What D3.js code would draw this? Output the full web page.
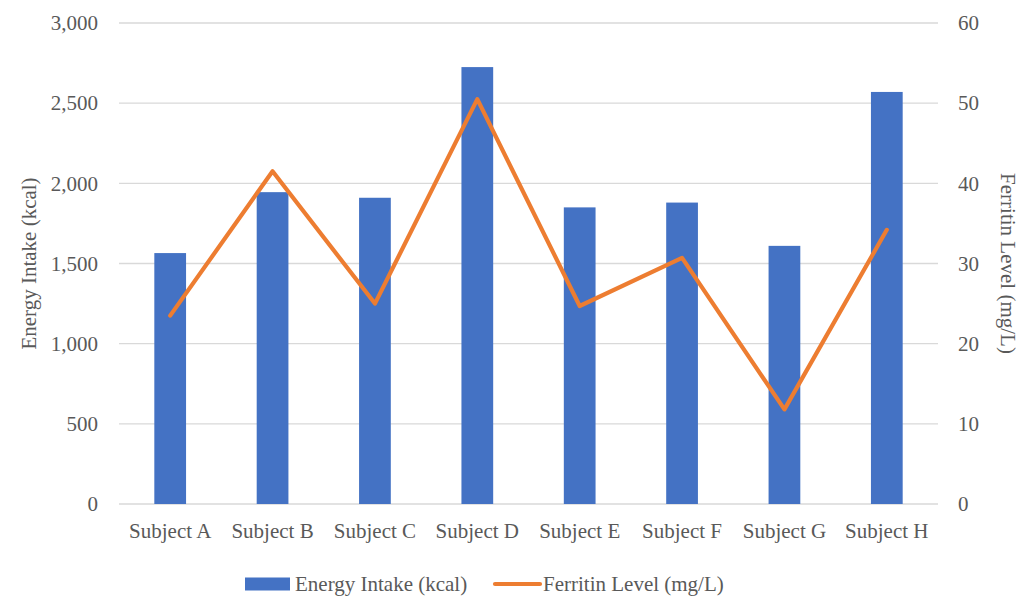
<!DOCTYPE html>
<html lang="en">
    <head>
        <meta charset="UTF-8" />
        <title>Energy Intake and Ferritin Level</title>
        <style>
            body {
                margin: 0;
                background: #fff;
            }
            svg text {
                font-family: 'Liberation Serif', 'DejaVu Serif', 'Times New Roman', serif;
                fill: #595959;
            }
        </style>
    </head>
    <body>
        <svg width="1020" height="598"></svg>
        <script src="https://d3js.org/d3.v7.min.js"></script>
        <script>
            const subjects = ['Subject A', 'Subject B', 'Subject C', 'Subject D', 'Subject E', 'Subject F', 'Subject G', 'Subject H'];
            const energyIntake = [1565, 1945, 1910, 2725, 1850, 1880, 1610, 2570];
            const ferritin = [23.5, 41.5, 25.0, 50.5, 24.7, 30.7, 11.8, 34.2];
            const leftTicks = [0, 500, 1000, 1500, 2000, 2500, 3000];
            const rightTicks = [0, 10, 20, 30, 40, 50, 60];

            const width = 1020,
                height = 598;
            const margin = { top: 23, right: 82, bottom: 94, left: 119 };
            const fontStack = "'Liberation Serif', 'DejaVu Serif', 'Times New Roman', serif";
            const svg = d3.select('svg');

            const x = d3
                .scaleBand()
                .domain(subjects)
                .range([margin.left, width - margin.right])
                .paddingInner(0.69)
                .paddingOuter(0.345);
            const yLeft = d3.scaleLinear().domain([0, 3000]).range([height - margin.bottom, margin.top]);
            const yRight = d3.scaleLinear().domain([0, 60]).range([height - margin.bottom, margin.top]);

            // gridlines
            svg.append('g')
                .selectAll('line')
                .data(leftTicks)
                .join('line')
                .attr('x1', margin.left)
                .attr('x2', width - margin.right)
                .attr('y1', (d) => yLeft(d))
                .attr('y2', (d) => yLeft(d))
                .attr('stroke', '#d9d9d9')
                .attr('stroke-width', 1.3);

            // bars
            svg.append('g')
                .selectAll('rect')
                .data(energyIntake)
                .join('rect')
                .attr('x', (d, i) => x(subjects[i]))
                .attr('width', x.bandwidth())
                .attr('y', (d) => yLeft(d))
                .attr('height', (d) => yLeft(0) - yLeft(d))
                .attr('fill', '#4472c4');

            // line
            const line = d3
                .line()
                .x((d, i) => x(subjects[i]) + x.bandwidth() / 2)
                .y((d) => yRight(d));
            svg.append('path')
                .datum(ferritin)
                .attr('d', line)
                .attr('fill', 'none')
                .attr('stroke', '#ed7d31')
                .attr('stroke-width', 4.2)
                .attr('stroke-linejoin', 'round')
                .attr('stroke-linecap', 'round');

            // axes
            const fmt = d3.format(',');
            const leftAxis = svg
                .append('g')
                .attr('transform', `translate(${margin.left},0)`)
                .call(d3.axisLeft(yLeft).tickValues(leftTicks).tickFormat(fmt).tickSize(0).tickPadding(21));
            const rightAxis = svg
                .append('g')
                .attr('transform', `translate(${width - margin.right},0)`)
                .call(d3.axisRight(yRight).tickValues(rightTicks).tickSize(0).tickPadding(20));
            const bottomAxis = svg
                .append('g')
                .attr('transform', `translate(0,${height - margin.bottom})`)
                .call(d3.axisBottom(x).tickSize(0).tickPadding(19));
            [leftAxis, rightAxis, bottomAxis].forEach((a) => {
                a.attr('font-family', null).attr('font-size', null);
                a.select('.domain').remove();
                a.selectAll('text').style('font-family', fontStack).style('font-size', '21px').attr('fill', '#595959');
            });

            // axis titles
            svg.append('text')
                .attr('transform', `translate(36,${(margin.top + height - margin.bottom) / 2}) rotate(-90)`)
                .attr('text-anchor', 'middle')
                .style('font-size', '21px')
                .text('Energy Intake (kcal)');
            svg.append('text')
                .attr('transform', `translate(1001,${(margin.top + height - margin.bottom) / 2}) rotate(90)`)
                .attr('text-anchor', 'middle')
                .style('font-size', '21px')
                .text('Ferritin Level (mg/L)');

            // legend
            const legend = svg.append('g').attr('transform', 'translate(0,584)');
            legend.append('rect').attr('x', 245).attr('y', -6.5).attr('width', 45).attr('height', 13).attr('fill', '#4472c4');
            legend.append('text').attr('x', 295).attr('y', 7).style('font-size', '21px').text('Energy Intake (kcal)');
            legend
                .append('line')
                .attr('x1', 495)
                .attr('x2', 540)
                .attr('stroke', '#ed7d31')
                .attr('stroke-width', 4.2)
                .attr('stroke-linecap', 'round');
            legend.append('text').attr('x', 543).attr('y', 7).style('font-size', '21px').text('Ferritin Level (mg/L)');
        </script>
    </body>
</html>
